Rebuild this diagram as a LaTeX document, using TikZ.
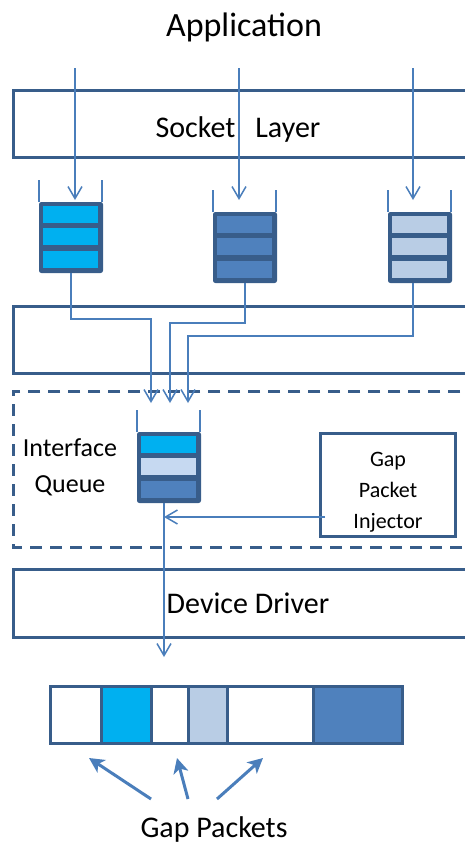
\documentclass[tikz,border=0pt]{standalone}
\usepackage{fontspec}
\setmainfont{Carlito}
\usetikzlibrary{arrows.meta,calc}
\definecolor{edge}{HTML}{385D8A}
\definecolor{flowc}{HTML}{4A7EBB}
\definecolor{cyanq}{HTML}{00B0F0}
\definecolor{midq}{HTML}{4F81BD}
\definecolor{lightq}{HTML}{B9CDE5}
\definecolor{paleq}{HTML}{C6D9F1}

% a packet queue: outer frame, three coloured slots and the two open side walls
\newcommand{\pktqueue}[6]{%
  \node[qbox,anchor=north west] (#1) at (#2,#3) {};
  \fill[#4] ($(#1.north west)+(4,4)$) rectangle ++(55,17);
  \fill[#5] ($(#1.north west)+(4,26)$) rectangle ++(55,17);
  \fill[#6] ($(#1.north west)+(4,49)$) rectangle ++(55,17);
  \draw[wall] (#1.north west) -- ++(0,-22);
  \draw[wall] ($(#1.north east)+(-1,0)$) -- ++(0,-22);
}

\begin{document}
\begin{tikzpicture}[x=1pt,y=-1pt,
  layer/.style={draw=edge,line width=3pt},
  flow/.style={draw=flowc,line width=1.5pt,-{Straight Barb[length=12pt,width=14pt]}},
  pointer/.style={draw=flowc,line width=3pt,-{Stealth[length=15pt,width=15pt,inset=4pt]}},
  wall/.style={draw=flowc,line width=1.5pt},
  qbox/.style={draw=edge,fill=edge,line width=1pt,rounded corners=2pt,
    minimum width=63pt,minimum height=70pt,inner sep=0pt},
  lbl/.style={anchor=base,text=black,inner sep=0pt},
]
\useasboundingbox (0,0) rectangle (465,846);
\clip (0,0) rectangle (465,846);

% layers
\draw[layer] (480,90) -- (13,90) -- (13,157) -- (480,157);
\draw[layer] (480,306) -- (13,306) -- (13,373) -- (480,373);
\draw[layer,dash pattern=on 12pt off 8pt] (480,391) -- (13,391) -- (13,547) -- (480,547);
\draw[layer] (480,569) -- (13,569) -- (13,637) -- (480,637);

% labels
\node[lbl,font=\fontsize{34}{40}\selectfont] (app) at (244,36) {Application};
\node[lbl,font=\fontsize{30}{36}\selectfont] (sock) at (238,137) {Socket\hspace{20pt}Layer};
\node[lbl,font=\fontsize{30}{36}\selectfont] (dev) at (248,613) {Device Driver};
\node[lbl,font=\fontsize{26}{32}\selectfont] (ifa) at (70,456) {Interface};
\node[lbl,font=\fontsize{26}{32}\selectfont] (ifb) at (70,492) {Queue};
\node[lbl,font=\fontsize{30}{36}\selectfont] (gp) at (214,837) {Gap Packets};

% gap packet injector
\node[layer,minimum width=135pt,minimum height=103pt,inner sep=0pt] (inj) at (387.5,484.5) {};
\node[lbl,font=\fontsize{22}{28}\selectfont] (inja) at (388,466) {Gap};
\node[lbl,font=\fontsize{22}{28}\selectfont] (injb) at (388,497) {Packet};
\node[lbl,font=\fontsize{22}{28}\selectfont] (injc) at (388,528) {Injector};

% socket queues and the interface queue
\pktqueue{q1}{39}{202}{cyanq}{cyanq}{cyanq}
\pktqueue{q2}{213}{212}{midq}{midq}{midq}
\pktqueue{q3}{388}{212}{lightq}{lightq}{lightq}
\pktqueue{iq}{137}{432}{cyanq}{paleq}{midq}

% application writes into the socket queues
\coordinate (a1) at (75,68);  \coordinate (e1) at (75,200);
\coordinate (a2) at (239,68); \coordinate (e2) at (239,200);
\coordinate (a3) at (413,68); \coordinate (e3) at (413,200);
\draw[flow] (a1) -- (e1);
\draw[flow] (a2) -- (e2);
\draw[flow] (a3) -- (e3);

% socket queues drain into the interface queue
\coordinate (m1) at (151,403);
\coordinate (m2) at (170,403);
\coordinate (m3) at (188,403);
\draw[flow] (q1.south) -- ++(0,46) -| (m1);
\draw[flow] (q2.south) -- ++(0,40) -| (m2);
\draw[flow] (q3.south -| a3) -- ++(0,53) -| (m3);

% injector feeds the queue output, which goes to the driver
\coordinate (g0) at (325,517);
\coordinate (g1) at (164,517);
\coordinate (o1) at (164,657);
\draw[flow] (g0) -- (g1);
\draw[flow] (iq.south -| o1) -- (o1);

% packets on the wire
\draw[layer,fill=white]  (50,686) rectangle (101,743);
\draw[layer,fill=cyanq]  (101,686) rectangle (151,743);
\draw[layer,fill=white]  (151,686) rectangle (188,743);
\draw[layer,fill=lightq] (188,686) rectangle (227,743);
\draw[layer,fill=white]  (227,686) rectangle (313,743);
\draw[layer,fill=midq]   (313,686) rectangle (402,743);

% pointers to the gap packets
\coordinate (s1) at (151,799); \coordinate (t1) at (89,758);
\coordinate (s2) at (188,799); \coordinate (t2) at (177,758);
\coordinate (s3) at (217,799); \coordinate (t3) at (263,758);
\draw[pointer] (s1) -- (t1);
\draw[pointer] (s2) -- (t2);
\draw[pointer] (s3) -- (t3);
\end{tikzpicture}
\end{document}
